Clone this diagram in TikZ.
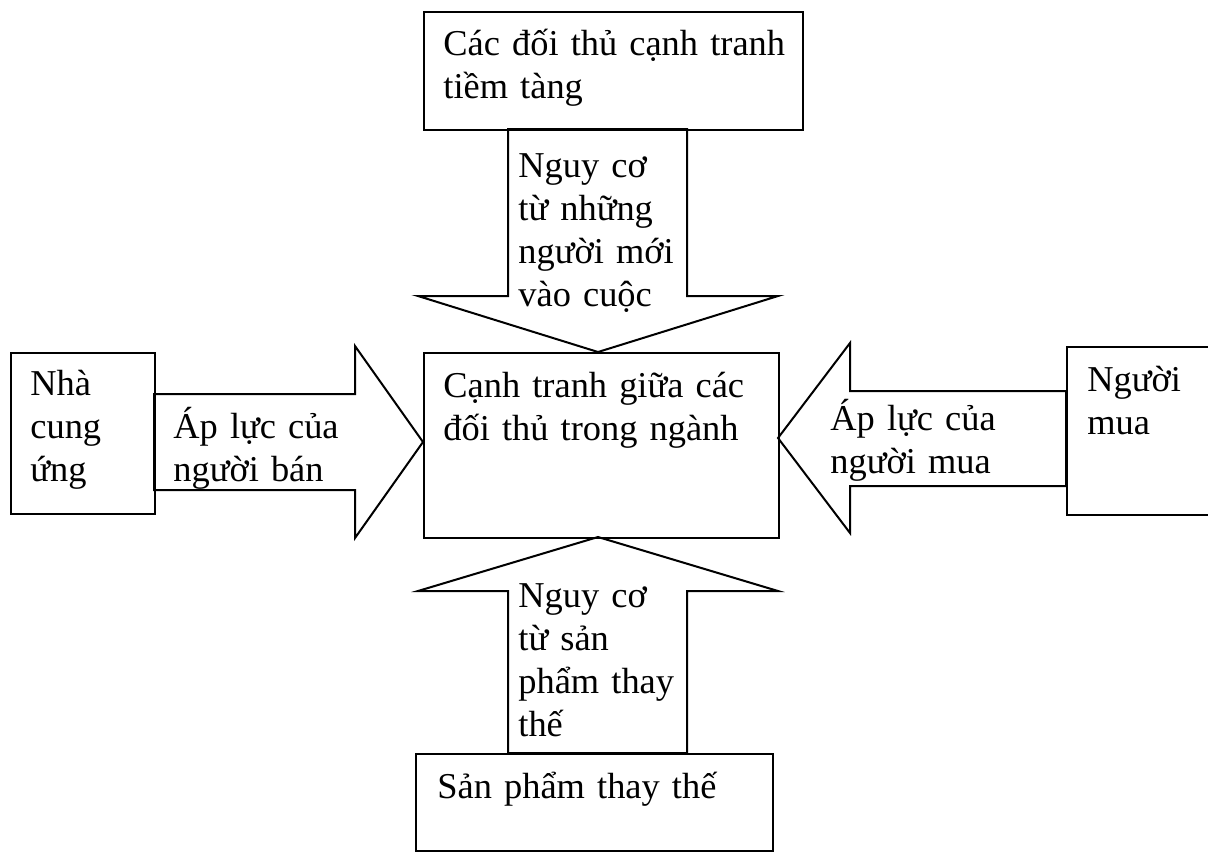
\documentclass[tikz,border=0pt]{standalone}
\usepackage{fontspec}
\setmainfont{Liberation Serif}
\usetikzlibrary{positioning}
\tikzset{box/.style={draw,line width=1pt,inner sep=0pt,anchor=north west}}
\tikzset{lbl/.style={font=\fontsize{18.2}{21.5}\selectfont,inner sep=0pt,align=left,text width=200pt,anchor=base west}}
\tikzset{blockarrow/.style={draw,line width=1pt,fill=white,line join=miter}}

\begin{document}
\begin{tikzpicture}[x=0.5pt,y=-0.5pt]
        \useasboundingbox (0,0) rectangle (1208,852);
        % block arrows
        \draw[blockarrow] (508,129) -- (687,129) -- (687,296) -- (778,296) -- (598,352) -- (418,296) -- (508,296) -- cycle;
        \draw[blockarrow] (154,394) -- (355,394) -- (355,346) -- (423,442) -- (355,538) -- (355,490) -- (154,490) -- cycle;
        \draw[blockarrow] (1066,391) -- (850,391) -- (850,343) -- (778,438) -- (850,533) -- (850,486) -- (1066,486) -- cycle;
        \draw[blockarrow] (508,753) -- (508,591) -- (418,591) -- (598,537) -- (778,591) -- (687,591) -- (687,753) -- cycle;
        % boxes
        \node[box,minimum width=189.5pt,minimum height=59pt](Entrants) at (423,11){};
        \node[box,minimum width=177.5pt,minimum height=92.5pt](Rivalry) at (423,352){};
        \node[box,minimum width=72pt,minimum height=80.5pt](Suppliers) at (10,352){};
        \node[box,minimum width=77pt,minimum height=84pt](Buyers) at (1066,346){};
        \node[box,minimum width=178.5pt,minimum height=48.5pt](Substitutes) at (415,753){};
        % texts
        \node[lbl](EntrantsTxt) at (443,55){Các đối thủ cạnh tranh\\tiềm tàng};
        \node[lbl](ThreatNew) at (518,177){Nguy cơ\\từ những\\người mới\\vào cuộc};
        \node[lbl](SuppliersTxt) at (30,395){Nhà\\cung\\ứng};
        \node[lbl](SellerPower) at (173,438){Áp lực của\\người bán};
        \node[lbl](RivalryTxt) at (443,397){Cạnh tranh giữa các\\đối thủ trong ngành};
        \node[lbl](BuyerPower) at (830,430){Áp lực của\\người mua};
        \node[lbl](BuyersTxt) at (1087,391){Người\\mua};
        \node[lbl](ThreatSub) at (518,607){Nguy cơ\\từ sản\\phẩm thay\\thế};
        \node[lbl](SubstitutesTxt) at (437,798){Sản phẩm thay thế};
      \end{tikzpicture}
\end{document}
